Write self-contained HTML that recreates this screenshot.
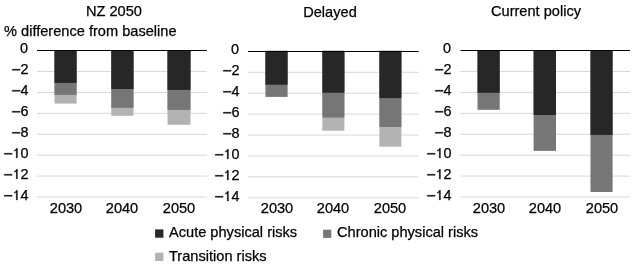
<!DOCTYPE html>
<html><head><meta charset="utf-8"><style>
html,body{margin:0;padding:0;background:#fff;width:634px;height:268px;overflow:hidden}
body{position:relative;font-family:"Liberation Sans",sans-serif;color:#000}
.t{position:absolute;white-space:nowrap;line-height:1;will-change:transform;-webkit-text-stroke:0.25px #000}
svg{position:absolute;left:0;top:0}
.one{position:relative;color:transparent;-webkit-text-stroke-color:transparent}
.one svg{overflow:visible}
</style></head><body>
<svg width="634" height="268" viewBox="0 0 634 268"><rect x="37.00" y="71.00" width="170.00" height="1.00" fill="#d8d8d8"/>
<rect x="37.00" y="91.92" width="170.00" height="1.00" fill="#d8d8d8"/>
<rect x="37.00" y="112.83" width="170.00" height="1.00" fill="#d8d8d8"/>
<rect x="37.00" y="133.75" width="170.00" height="1.00" fill="#d8d8d8"/>
<rect x="37.00" y="154.67" width="170.00" height="1.00" fill="#d8d8d8"/>
<rect x="37.00" y="175.59" width="170.00" height="1.00" fill="#d8d8d8"/>
<rect x="37.00" y="196.50" width="170.00" height="1.00" fill="#d8d8d8"/>
<rect x="54.50" y="50.08" width="22.10" height="53.52" fill="#b3b3b3"/>
<rect x="54.50" y="50.08" width="22.10" height="44.82" fill="#767676"/>
<rect x="54.50" y="50.08" width="22.10" height="32.82" fill="#272727"/>
<rect x="111.30" y="50.08" width="22.20" height="65.72" fill="#b3b3b3"/>
<rect x="111.30" y="50.08" width="22.20" height="57.72" fill="#767676"/>
<rect x="111.30" y="50.08" width="22.20" height="38.92" fill="#272727"/>
<rect x="167.50" y="50.08" width="23.00" height="74.72" fill="#b3b3b3"/>
<rect x="167.50" y="50.08" width="23.00" height="59.82" fill="#767676"/>
<rect x="167.50" y="50.08" width="23.00" height="39.82" fill="#272727"/>
<rect x="37.00" y="50.00" width="170.00" height="1.00" fill="#000"/>
<rect x="248.00" y="71.80" width="170.67" height="1.00" fill="#d8d8d8"/>
<rect x="248.00" y="92.72" width="170.67" height="1.00" fill="#d8d8d8"/>
<rect x="248.00" y="113.63" width="170.67" height="1.00" fill="#d8d8d8"/>
<rect x="248.00" y="134.55" width="170.67" height="1.00" fill="#d8d8d8"/>
<rect x="248.00" y="155.47" width="170.67" height="1.00" fill="#d8d8d8"/>
<rect x="248.00" y="176.38" width="170.67" height="1.00" fill="#d8d8d8"/>
<rect x="248.00" y="197.30" width="170.67" height="1.00" fill="#d8d8d8"/>
<rect x="265.40" y="50.88" width="22.20" height="46.02" fill="#767676"/>
<rect x="265.40" y="50.88" width="22.20" height="33.82" fill="#272727"/>
<rect x="322.40" y="50.88" width="22.00" height="79.82" fill="#b3b3b3"/>
<rect x="322.40" y="50.88" width="22.00" height="66.72" fill="#767676"/>
<rect x="322.40" y="50.88" width="22.00" height="41.87" fill="#272727"/>
<rect x="379.40" y="50.88" width="22.00" height="95.82" fill="#b3b3b3"/>
<rect x="379.40" y="50.88" width="22.00" height="76.12" fill="#767676"/>
<rect x="379.40" y="50.88" width="22.00" height="47.22" fill="#272727"/>
<rect x="248.00" y="51.00" width="170.67" height="1.00" fill="#000"/>
<rect x="460.50" y="71.00" width="169.50" height="1.00" fill="#d8d8d8"/>
<rect x="460.50" y="91.92" width="169.50" height="1.00" fill="#d8d8d8"/>
<rect x="460.50" y="112.83" width="169.50" height="1.00" fill="#d8d8d8"/>
<rect x="460.50" y="133.75" width="169.50" height="1.00" fill="#d8d8d8"/>
<rect x="460.50" y="154.67" width="169.50" height="1.00" fill="#d8d8d8"/>
<rect x="460.50" y="175.59" width="169.50" height="1.00" fill="#d8d8d8"/>
<rect x="460.50" y="196.50" width="169.50" height="1.00" fill="#d8d8d8"/>
<rect x="477.50" y="50.08" width="22.20" height="59.72" fill="#767676"/>
<rect x="477.50" y="50.08" width="22.20" height="42.72" fill="#272727"/>
<rect x="533.60" y="50.08" width="22.40" height="100.82" fill="#767676"/>
<rect x="533.60" y="50.08" width="22.40" height="64.92" fill="#272727"/>
<rect x="590.50" y="50.08" width="22.10" height="141.92" fill="#767676"/>
<rect x="590.50" y="50.08" width="22.10" height="84.82" fill="#272727"/>
<rect x="460.50" y="50.00" width="169.50" height="1.00" fill="#000"/>
<rect x="155.10" y="229.40" width="8.30" height="8.30" fill="#272727"/>
<rect x="323.10" y="229.70" width="8.20" height="8.20" fill="#767676"/>
<rect x="155.10" y="252.70" width="8.30" height="8.30" fill="#b3b3b3"/></svg>
<div class="t" style="left:-34.45px;width:200px;top:200.64px;font-size:14.6px;text-align:center">2030</div>
<div class="t" style="left:22.40px;width:200px;top:200.64px;font-size:14.6px;text-align:center">2040</div>
<div class="t" style="left:79.00px;width:200px;top:200.64px;font-size:14.6px;text-align:center">2050</div>
<div class="t" style="right:606.00px;top:41.01px;font-size:14.4px;text-align:right">0</div>
<div class="t" style="right:606.00px;top:62.01px;font-size:14.4px;text-align:right"><span class="one">&minus;<svg width="8.409" height="16.088" viewBox="0 0 1196 2288"><path transform="translate(0 1854) scale(1 -1)" d="M30 520H1165V690H30Z" fill="#000" stroke="#000" stroke-width="35"/></svg></span>2</div>
<div class="t" style="right:606.00px;top:83.01px;font-size:14.4px;text-align:right"><span class="one">&minus;<svg width="8.409" height="16.088" viewBox="0 0 1196 2288"><path transform="translate(0 1854) scale(1 -1)" d="M30 520H1165V690H30Z" fill="#000" stroke="#000" stroke-width="35"/></svg></span>4</div>
<div class="t" style="right:606.00px;top:104.01px;font-size:14.4px;text-align:right"><span class="one">&minus;<svg width="8.409" height="16.088" viewBox="0 0 1196 2288"><path transform="translate(0 1854) scale(1 -1)" d="M30 520H1165V690H30Z" fill="#000" stroke="#000" stroke-width="35"/></svg></span>6</div>
<div class="t" style="right:606.00px;top:125.01px;font-size:14.4px;text-align:right"><span class="one">&minus;<svg width="8.409" height="16.088" viewBox="0 0 1196 2288"><path transform="translate(0 1854) scale(1 -1)" d="M30 520H1165V690H30Z" fill="#000" stroke="#000" stroke-width="35"/></svg></span>8</div>
<div class="t" style="right:606.00px;top:146.01px;font-size:14.4px;text-align:right"><span class="one">&minus;<svg width="8.409" height="16.088" viewBox="0 0 1196 2288"><path transform="translate(0 1854) scale(1 -1)" d="M30 520H1165V690H30Z" fill="#000" stroke="#000" stroke-width="35"/></svg></span><span class="one">1<svg width="8.009" height="16.088" viewBox="0 0 1139 2288"><path transform="translate(0 1854) scale(1 -1)" d="M781 0H600V1090C540 1030 440 990 325 975V1120C470 1150 580 1250 620 1409H781Z" fill="#000" stroke="#000" stroke-width="35"/></svg></span>0</div>
<div class="t" style="right:606.00px;top:167.01px;font-size:14.4px;text-align:right"><span class="one">&minus;<svg width="8.409" height="16.088" viewBox="0 0 1196 2288"><path transform="translate(0 1854) scale(1 -1)" d="M30 520H1165V690H30Z" fill="#000" stroke="#000" stroke-width="35"/></svg></span><span class="one">1<svg width="8.009" height="16.088" viewBox="0 0 1139 2288"><path transform="translate(0 1854) scale(1 -1)" d="M781 0H600V1090C540 1030 440 990 325 975V1120C470 1150 580 1250 620 1409H781Z" fill="#000" stroke="#000" stroke-width="35"/></svg></span>2</div>
<div class="t" style="right:606.00px;top:188.01px;font-size:14.4px;text-align:right"><span class="one">&minus;<svg width="8.409" height="16.088" viewBox="0 0 1196 2288"><path transform="translate(0 1854) scale(1 -1)" d="M30 520H1165V690H30Z" fill="#000" stroke="#000" stroke-width="35"/></svg></span><span class="one">1<svg width="8.009" height="16.088" viewBox="0 0 1139 2288"><path transform="translate(0 1854) scale(1 -1)" d="M781 0H600V1090C540 1030 440 990 325 975V1120C470 1150 580 1250 620 1409H781Z" fill="#000" stroke="#000" stroke-width="35"/></svg></span>4</div>
<div class="t" style="left:14.00px;width:200px;top:3.94px;font-size:14.6px;text-align:center">NZ 2050</div>
<div class="t" style="left:176.50px;width:200px;top:200.64px;font-size:14.6px;text-align:center">2030</div>
<div class="t" style="left:233.40px;width:200px;top:200.64px;font-size:14.6px;text-align:center">2040</div>
<div class="t" style="left:290.40px;width:200px;top:200.64px;font-size:14.6px;text-align:center">2050</div>
<div class="t" style="right:395.00px;top:42.01px;font-size:14.4px;text-align:right">0</div>
<div class="t" style="right:395.00px;top:63.01px;font-size:14.4px;text-align:right"><span class="one">&minus;<svg width="8.409" height="16.088" viewBox="0 0 1196 2288"><path transform="translate(0 1854) scale(1 -1)" d="M30 520H1165V690H30Z" fill="#000" stroke="#000" stroke-width="35"/></svg></span>2</div>
<div class="t" style="right:395.00px;top:84.01px;font-size:14.4px;text-align:right"><span class="one">&minus;<svg width="8.409" height="16.088" viewBox="0 0 1196 2288"><path transform="translate(0 1854) scale(1 -1)" d="M30 520H1165V690H30Z" fill="#000" stroke="#000" stroke-width="35"/></svg></span>4</div>
<div class="t" style="right:395.00px;top:105.01px;font-size:14.4px;text-align:right"><span class="one">&minus;<svg width="8.409" height="16.088" viewBox="0 0 1196 2288"><path transform="translate(0 1854) scale(1 -1)" d="M30 520H1165V690H30Z" fill="#000" stroke="#000" stroke-width="35"/></svg></span>6</div>
<div class="t" style="right:395.00px;top:126.01px;font-size:14.4px;text-align:right"><span class="one">&minus;<svg width="8.409" height="16.088" viewBox="0 0 1196 2288"><path transform="translate(0 1854) scale(1 -1)" d="M30 520H1165V690H30Z" fill="#000" stroke="#000" stroke-width="35"/></svg></span>8</div>
<div class="t" style="right:395.00px;top:147.01px;font-size:14.4px;text-align:right"><span class="one">&minus;<svg width="8.409" height="16.088" viewBox="0 0 1196 2288"><path transform="translate(0 1854) scale(1 -1)" d="M30 520H1165V690H30Z" fill="#000" stroke="#000" stroke-width="35"/></svg></span><span class="one">1<svg width="8.009" height="16.088" viewBox="0 0 1139 2288"><path transform="translate(0 1854) scale(1 -1)" d="M781 0H600V1090C540 1030 440 990 325 975V1120C470 1150 580 1250 620 1409H781Z" fill="#000" stroke="#000" stroke-width="35"/></svg></span>0</div>
<div class="t" style="right:395.00px;top:168.01px;font-size:14.4px;text-align:right"><span class="one">&minus;<svg width="8.409" height="16.088" viewBox="0 0 1196 2288"><path transform="translate(0 1854) scale(1 -1)" d="M30 520H1165V690H30Z" fill="#000" stroke="#000" stroke-width="35"/></svg></span><span class="one">1<svg width="8.009" height="16.088" viewBox="0 0 1139 2288"><path transform="translate(0 1854) scale(1 -1)" d="M781 0H600V1090C540 1030 440 990 325 975V1120C470 1150 580 1250 620 1409H781Z" fill="#000" stroke="#000" stroke-width="35"/></svg></span>2</div>
<div class="t" style="right:395.00px;top:189.01px;font-size:14.4px;text-align:right"><span class="one">&minus;<svg width="8.409" height="16.088" viewBox="0 0 1196 2288"><path transform="translate(0 1854) scale(1 -1)" d="M30 520H1165V690H30Z" fill="#000" stroke="#000" stroke-width="35"/></svg></span><span class="one">1<svg width="8.009" height="16.088" viewBox="0 0 1139 2288"><path transform="translate(0 1854) scale(1 -1)" d="M781 0H600V1090C540 1030 440 990 325 975V1120C470 1150 580 1250 620 1409H781Z" fill="#000" stroke="#000" stroke-width="35"/></svg></span>4</div>
<div class="t" style="left:230.10px;width:200px;top:4.64px;font-size:14.6px;text-align:center">Delayed</div>
<div class="t" style="left:388.60px;width:200px;top:200.64px;font-size:14.6px;text-align:center">2030</div>
<div class="t" style="left:444.80px;width:200px;top:200.64px;font-size:14.6px;text-align:center">2040</div>
<div class="t" style="left:501.55px;width:200px;top:200.64px;font-size:14.6px;text-align:center">2050</div>
<div class="t" style="right:183.00px;top:41.01px;font-size:14.4px;text-align:right">0</div>
<div class="t" style="right:183.00px;top:62.01px;font-size:14.4px;text-align:right"><span class="one">&minus;<svg width="8.409" height="16.088" viewBox="0 0 1196 2288"><path transform="translate(0 1854) scale(1 -1)" d="M30 520H1165V690H30Z" fill="#000" stroke="#000" stroke-width="35"/></svg></span>2</div>
<div class="t" style="right:183.00px;top:83.01px;font-size:14.4px;text-align:right"><span class="one">&minus;<svg width="8.409" height="16.088" viewBox="0 0 1196 2288"><path transform="translate(0 1854) scale(1 -1)" d="M30 520H1165V690H30Z" fill="#000" stroke="#000" stroke-width="35"/></svg></span>4</div>
<div class="t" style="right:183.00px;top:104.01px;font-size:14.4px;text-align:right"><span class="one">&minus;<svg width="8.409" height="16.088" viewBox="0 0 1196 2288"><path transform="translate(0 1854) scale(1 -1)" d="M30 520H1165V690H30Z" fill="#000" stroke="#000" stroke-width="35"/></svg></span>6</div>
<div class="t" style="right:183.00px;top:125.01px;font-size:14.4px;text-align:right"><span class="one">&minus;<svg width="8.409" height="16.088" viewBox="0 0 1196 2288"><path transform="translate(0 1854) scale(1 -1)" d="M30 520H1165V690H30Z" fill="#000" stroke="#000" stroke-width="35"/></svg></span>8</div>
<div class="t" style="right:183.00px;top:146.01px;font-size:14.4px;text-align:right"><span class="one">&minus;<svg width="8.409" height="16.088" viewBox="0 0 1196 2288"><path transform="translate(0 1854) scale(1 -1)" d="M30 520H1165V690H30Z" fill="#000" stroke="#000" stroke-width="35"/></svg></span><span class="one">1<svg width="8.009" height="16.088" viewBox="0 0 1139 2288"><path transform="translate(0 1854) scale(1 -1)" d="M781 0H600V1090C540 1030 440 990 325 975V1120C470 1150 580 1250 620 1409H781Z" fill="#000" stroke="#000" stroke-width="35"/></svg></span>0</div>
<div class="t" style="right:183.00px;top:167.01px;font-size:14.4px;text-align:right"><span class="one">&minus;<svg width="8.409" height="16.088" viewBox="0 0 1196 2288"><path transform="translate(0 1854) scale(1 -1)" d="M30 520H1165V690H30Z" fill="#000" stroke="#000" stroke-width="35"/></svg></span><span class="one">1<svg width="8.009" height="16.088" viewBox="0 0 1139 2288"><path transform="translate(0 1854) scale(1 -1)" d="M781 0H600V1090C540 1030 440 990 325 975V1120C470 1150 580 1250 620 1409H781Z" fill="#000" stroke="#000" stroke-width="35"/></svg></span>2</div>
<div class="t" style="right:183.00px;top:188.01px;font-size:14.4px;text-align:right"><span class="one">&minus;<svg width="8.409" height="16.088" viewBox="0 0 1196 2288"><path transform="translate(0 1854) scale(1 -1)" d="M30 520H1165V690H30Z" fill="#000" stroke="#000" stroke-width="35"/></svg></span><span class="one">1<svg width="8.009" height="16.088" viewBox="0 0 1139 2288"><path transform="translate(0 1854) scale(1 -1)" d="M781 0H600V1090C540 1030 440 990 325 975V1120C470 1150 580 1250 620 1409H781Z" fill="#000" stroke="#000" stroke-width="35"/></svg></span>4</div>
<div class="t" style="left:436.30px;width:200px;top:3.74px;font-size:14.6px;text-align:center">Current policy</div>
<div class="t" style="left:3.90px;top:23.64px;font-size:14.6px">% difference from baseline</div>
<div class="t" style="left:169.40px;top:224.84px;font-size:14.6px">Acute physical risks</div>
<div class="t" style="left:337.40px;top:224.84px;font-size:14.6px">Chronic physical risks</div>
<div class="t" style="left:169.40px;top:248.64px;font-size:14.6px">Transition risks</div>
</body></html>
